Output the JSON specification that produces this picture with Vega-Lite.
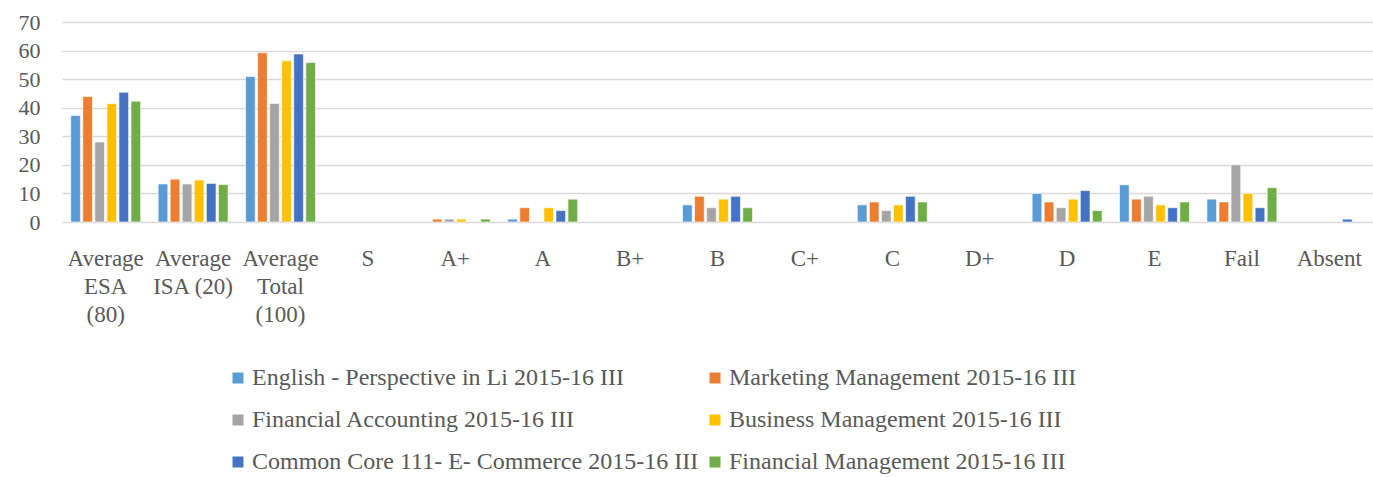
{
  "$schema": "https://vega.github.io/schema/vega-lite/v6.json",
  "width": 1311,
  "height": 200,
  "autosize": {"type": "none"},
  "padding": {"left": 62, "top": 22, "right": 0, "bottom": 255},
  "background": "white",
  "config": {
    "view": {"stroke": null},
    "font": "Liberation Serif",
    "axis": {"labelFont": "Liberation Serif", "labelColor": "#595959", "labelFontSize": 22},
    "legend": {"labelFont": "Liberation Serif", "labelColor": "#595959", "labelFontSize": 24}
  },
  "data": {
    "values": [
      {"c": "Average ESA (80)", "s": "English - Perspective in Li 2015-16 III", "v": 37.3},
      {"c": "Average ESA (80)", "s": "Marketing Management 2015-16 III", "v": 43.9},
      {"c": "Average ESA (80)", "s": "Financial Accounting 2015-16 III", "v": 28.0},
      {"c": "Average ESA (80)", "s": "Business Management 2015-16 III", "v": 41.4},
      {"c": "Average ESA (80)", "s": "Common Core 111- E- Commerce 2015-16 III", "v": 45.4},
      {"c": "Average ESA (80)", "s": "Financial Management 2015-16 III", "v": 42.3},
      {"c": "Average ISA (20)", "s": "English - Perspective in Li 2015-16 III", "v": 13.3},
      {"c": "Average ISA (20)", "s": "Marketing Management 2015-16 III", "v": 15.0},
      {"c": "Average ISA (20)", "s": "Financial Accounting 2015-16 III", "v": 13.3},
      {"c": "Average ISA (20)", "s": "Business Management 2015-16 III", "v": 14.7},
      {"c": "Average ISA (20)", "s": "Common Core 111- E- Commerce 2015-16 III", "v": 13.5},
      {"c": "Average ISA (20)", "s": "Financial Management 2015-16 III", "v": 13.1},
      {"c": "Average Total (100)", "s": "English - Perspective in Li 2015-16 III", "v": 50.9},
      {"c": "Average Total (100)", "s": "Marketing Management 2015-16 III", "v": 59.2},
      {"c": "Average Total (100)", "s": "Financial Accounting 2015-16 III", "v": 41.5},
      {"c": "Average Total (100)", "s": "Business Management 2015-16 III", "v": 56.4},
      {"c": "Average Total (100)", "s": "Common Core 111- E- Commerce 2015-16 III", "v": 58.8},
      {"c": "Average Total (100)", "s": "Financial Management 2015-16 III", "v": 55.8},
      {"c": "A+", "s": "Marketing Management 2015-16 III", "v": 1},
      {"c": "A+", "s": "Financial Accounting 2015-16 III", "v": 1},
      {"c": "A+", "s": "Business Management 2015-16 III", "v": 1},
      {"c": "A+", "s": "Financial Management 2015-16 III", "v": 1},
      {"c": "A", "s": "English - Perspective in Li 2015-16 III", "v": 1},
      {"c": "A", "s": "Marketing Management 2015-16 III", "v": 5},
      {"c": "A", "s": "Business Management 2015-16 III", "v": 5},
      {"c": "A", "s": "Common Core 111- E- Commerce 2015-16 III", "v": 4},
      {"c": "A", "s": "Financial Management 2015-16 III", "v": 8},
      {"c": "B", "s": "English - Perspective in Li 2015-16 III", "v": 6},
      {"c": "B", "s": "Marketing Management 2015-16 III", "v": 9},
      {"c": "B", "s": "Financial Accounting 2015-16 III", "v": 5},
      {"c": "B", "s": "Business Management 2015-16 III", "v": 8},
      {"c": "B", "s": "Common Core 111- E- Commerce 2015-16 III", "v": 9},
      {"c": "B", "s": "Financial Management 2015-16 III", "v": 5},
      {"c": "C", "s": "English - Perspective in Li 2015-16 III", "v": 6},
      {"c": "C", "s": "Marketing Management 2015-16 III", "v": 7},
      {"c": "C", "s": "Financial Accounting 2015-16 III", "v": 4},
      {"c": "C", "s": "Business Management 2015-16 III", "v": 6},
      {"c": "C", "s": "Common Core 111- E- Commerce 2015-16 III", "v": 9},
      {"c": "C", "s": "Financial Management 2015-16 III", "v": 7},
      {"c": "D", "s": "English - Perspective in Li 2015-16 III", "v": 10},
      {"c": "D", "s": "Marketing Management 2015-16 III", "v": 7},
      {"c": "D", "s": "Financial Accounting 2015-16 III", "v": 5},
      {"c": "D", "s": "Business Management 2015-16 III", "v": 8},
      {"c": "D", "s": "Common Core 111- E- Commerce 2015-16 III", "v": 11},
      {"c": "D", "s": "Financial Management 2015-16 III", "v": 4},
      {"c": "E", "s": "English - Perspective in Li 2015-16 III", "v": 13},
      {"c": "E", "s": "Marketing Management 2015-16 III", "v": 8},
      {"c": "E", "s": "Financial Accounting 2015-16 III", "v": 9},
      {"c": "E", "s": "Business Management 2015-16 III", "v": 6},
      {"c": "E", "s": "Common Core 111- E- Commerce 2015-16 III", "v": 5},
      {"c": "E", "s": "Financial Management 2015-16 III", "v": 7},
      {"c": "Fail", "s": "English - Perspective in Li 2015-16 III", "v": 8},
      {"c": "Fail", "s": "Marketing Management 2015-16 III", "v": 7},
      {"c": "Fail", "s": "Financial Accounting 2015-16 III", "v": 20},
      {"c": "Fail", "s": "Business Management 2015-16 III", "v": 10},
      {"c": "Fail", "s": "Common Core 111- E- Commerce 2015-16 III", "v": 5},
      {"c": "Fail", "s": "Financial Management 2015-16 III", "v": 12},
      {"c": "Absent", "s": "Common Core 111- E- Commerce 2015-16 III", "v": 1}
    ]
  },
  "mark": {"type": "bar", "stroke": "white", "strokeWidth": 0.6},
  "encoding": {
    "x": {
      "field": "c",
      "type": "nominal",
      "title": null,
      "scale": {
        "domain": ["Average ESA (80)", "Average ISA (20)", "Average Total (100)", "S", "A+", "A", "B+", "B", "C+", "C", "D+", "D", "E", "Fail", "Absent"],
        "paddingInner": 0.2,
        "paddingOuter": 0.1
      },
      "axis": {
        "labelAngle": 0,
        "ticks": false,
        "domain": false,
        "labelPadding": 25,
        "labelLineHeight": 28,
        "labelFontSize": 23,
        "labelExpr": "datum.value == 'Average ESA (80)' ? ['Average', 'ESA', '(80)'] : datum.value == 'Average ISA (20)' ? ['Average', 'ISA (20)'] : datum.value == 'Average Total (100)' ? ['Average', 'Total', '(100)'] : datum.value"
      }
    },
    "xOffset": {
      "field": "s",
      "type": "nominal",
      "scale": {"paddingInner": 0.2, "domain": ["English - Perspective in Li 2015-16 III", "Marketing Management 2015-16 III", "Financial Accounting 2015-16 III", "Business Management 2015-16 III", "Common Core 111- E- Commerce 2015-16 III", "Financial Management 2015-16 III"]}
    },
    "y": {
      "field": "v",
      "type": "quantitative",
      "title": null,
      "scale": {"domain": [0, 70], "nice": false},
      "axis": {
        "values": [0, 10, 20, 30, 40, 50, 60, 70],
        "ticks": false,
        "domain": false,
        "labelPadding": 22,
        "gridColor": "#d9d9d9",
        "gridWidth": 1.5
      }
    },
    "color": {
      "field": "s",
      "type": "nominal",
      "title": null,
      "scale": {
        "domain": ["English - Perspective in Li 2015-16 III", "Marketing Management 2015-16 III", "Financial Accounting 2015-16 III", "Business Management 2015-16 III", "Common Core 111- E- Commerce 2015-16 III", "Financial Management 2015-16 III"],
        "range": ["#5B9BD5", "#ED7D31", "#A5A5A5", "#FFC000", "#4472C4", "#70AD47"]
      },
      "legend": {
        "orient": "none",
        "legendX": 164,
        "legendY": 344,
        "columns": 2,
        "direction": "horizontal",
        "symbolType": "square",
        "symbolSize": 121,
        "symbolStrokeWidth": 0,
        "labelLimit": 0,
        "labelOffset": 2,
        "rowPadding": 18,
        "columnPadding": 4,
        "padding": 0
      }
    }
  }
}
